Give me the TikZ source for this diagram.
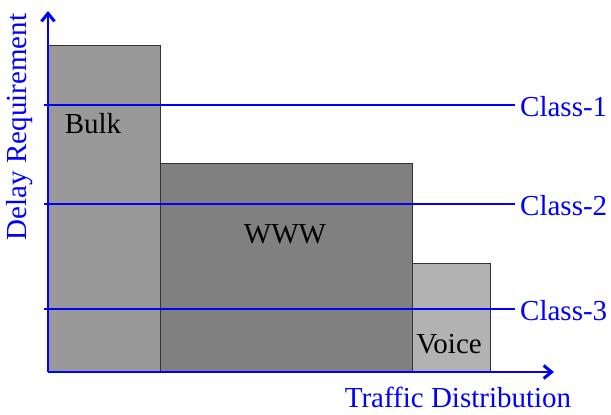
\documentclass[tikz,border=0pt]{standalone}
\usepackage{fontspec}
\setmainfont{Liberation Serif}
\usepackage{tikz}
\usetikzlibrary{arrows.meta,positioning}

\tikzset{
  lab/.style={font=\fontsize{29}{34}\selectfont,inner sep=0pt},
  bluelab/.style={lab,text=blue},
  cls/.style={blue,line width=1.1pt},
  ax/.style={blue,line width=1.3pt,-{Straight Barb[length=8pt,width=13pt,line width=3pt]}},
  bar/.style={draw=black!80,line width=0.8pt}
}

\begin{document}
\begin{tikzpicture}[x=1pt,y=1pt]
  \useasboundingbox (-48,-43) rectangle (563,372);
  % traffic classes
  \draw[bar,fill=black!40] (0,0) rectangle (112,327);
  \draw[bar,fill=black!50] (112,0) rectangle (364,209);
  \draw[bar,fill=black!30] (364,0) rectangle (442,109);
  \node[lab] (bulk) at (45,248) {Bulk};
  \node[lab] (www) at (237,138) {WWW};
  \node[lab] (voice) at (401,28) {Voice};
  % delay classes
  \node[bluelab,anchor=west] (c1) at (472,265) {Class-1};
  \node[bluelab,anchor=west] (c2) at (472,166) {Class-2};
  \node[bluelab,anchor=west] (c3) at (472,61) {Class-3};
  \draw[cls] (-4,267) -- ([xshift=-5pt]c1.west |- 0,267);
  \draw[cls] (-4,168) -- ([xshift=-5pt]c2.west |- 0,168);
  \draw[cls] (-4,63) -- ([xshift=-5pt]c3.west |- 0,63);
  % axes
  \coordinate (o) at (0,0);
  \coordinate (ytip) at (0,361);
  \coordinate (xtip) at (506,0);
  \draw[ax] (o) -- (ytip);
  \draw[ax] (o) -- (xtip);
  \node[bluelab,rotate=90] (ylab) at (-28,245) {Delay Requirement};
  \node[bluelab] (xlab) at (410,-25) {Traffic Distribution};
\end{tikzpicture}
\end{document}
